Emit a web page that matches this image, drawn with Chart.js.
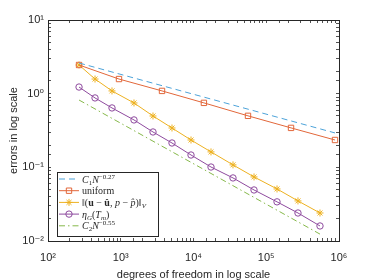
<!DOCTYPE html>
<html>
<head>
<meta charset="utf-8">
<script src="https://cdn.jsdelivr.net/npm/chart.js@4"></script>
<style>
  html, body { margin: 0; padding: 0; background: #fff; }
  #wrap { width: 374px; height: 280px; }
</style>
</head>
<body>
<div id="wrap"><canvas id="errChart"></canvas></div>
<script>
// data
const dofUniform = [267, 946, 3690, 13900, 56100, 219000, 881000];
const errUniform = [2.45, 1.58, 1.09, 0.75, 0.50, 0.343, 0.235];

const dofAdaptive = [267, 443, 758, 1521, 2775, 5063, 9240, 17400, 34900, 67900, 140600, 273000, 548000];
const errAdaptive = [2.45, 1.58, 1.09, 0.748, 0.498, 0.342, 0.235, 0.162, 0.108, 0.0741, 0.0509, 0.0350, 0.0240];
const etaAdaptive = [1.23, 0.875, 0.640, 0.440, 0.302, 0.214, 0.147, 0.101, 0.0718, 0.0493, 0.0340, 0.0240, 0.0160];

// reference slopes, end points only
const dofRef1 = [267, 881000];
const valRef1 = [2.61, 0.293];
const dofRef2 = [267, 548000];
const valRef2 = [0.82, 0.0124];

const xMin = 1e2, xMax = 1e6;
const yMin = 1e-2, yMax = 1e1;

const axisColor = "#262626";
const sans = "'Liberation Sans', 'DejaVu Sans', sans-serif";
const serif = "'Liberation Serif', 'DejaVu Serif', serif";

function pts(xs, ys) {
    return xs.map((x, i) => ({ x: x, y: ys[i] }));
}

const SUP = { "0": "⁰", "1": "¹", "2": "²", "3": "³", "4": "⁴", "5": "⁵", "6": "⁶", "-": "⁻" };
function powLabel(v) {
    const e = Math.log10(v);
    if (Math.abs(e - Math.round(e)) > 1e-9) return "";
    return "10" + String(Math.round(e)).split("").map(c => SUP[c]).join("");
}

// legend text pieces: [text, style]
const legendText = [
    [["C", "i"], ["1", "sub"], ["N", "i"], ["−0.27", "sup"]],
    [["uniform", "r"]],
    [["‖(", "r"], ["u", "b"], [" − ", "r"], ["û", "b"], [", ", "r"], ["p", "i"], [" − ", "r"], ["p̂", "i"], [")‖", "r"], ["V", "subi"]],
    [["η", "i"], ["G", "subi"], ["(", "r"], ["T", "i"], ["m", "subi"], [")", "r"]],
    [["C", "i"], ["2", "sub"], ["N", "i"], ["−0.55", "sup"]]
];

const boxLegend = {
    id: "boxLegend",
    afterDraw(chart) {
        const ctx = chart.ctx;
        const x0 = 57, y0 = 172, w = 101, h = 64;
        ctx.save();
        ctx.fillStyle = "#fff";
        ctx.fillRect(x0, y0, w, h);
        ctx.strokeStyle = axisColor;
        ctx.lineWidth = 1;
        ctx.strokeRect(x0 + 0.5, y0 + 0.5, w, h);

        chart.data.datasets.forEach((ds, i) => {
            const y = y0 + 7 + i * 11.7;
            ctx.strokeStyle = ds.borderColor;
            ctx.lineWidth = ds.borderWidth;
            ctx.setLineDash(ds.borderDash || []);
            ctx.beginPath();
            ctx.moveTo(x0 + 2, y);
            ctx.lineTo(x0 + 22, y);
            ctx.stroke();
            ctx.setLineDash([]);
            if (ds.pointRadius > 0) {
                ctx.fillStyle = "rgba(0,0,0,0)";
                Chart.helpers.drawPoint(ctx, {
                    pointStyle: ds.pointStyle,
                    radius: ds.pointRadius,
                    borderWidth: ds.borderWidth,
                    rotation: 0
                }, x0 + 12, y);
            }
            // rich text
            let tx = x0 + 25;
            ctx.fillStyle = axisColor;
            ctx.textBaseline = "alphabetic";
            legendText[i].forEach(([t, st]) => {
                let font = "10px " + serif, dy = 3.5;
                if (st === "i") font = "italic 10px " + serif;
                if (st === "b") font = "bold 10px " + serif;
                if (st === "sub") { font = "7px " + serif; dy = 5.5; }
                if (st === "subi") { font = "italic 7px " + serif; dy = 5.5; }
                if (st === "sup") { font = "7px " + serif; dy = -0.5; }
                ctx.font = font;
                ctx.fillText(t, tx, y + dy);
                tx += ctx.measureText(t).width;
            });
        });
        ctx.restore();
    }
};

function logAxis(pos, min, max, showLabels, size) {
    const horizontal = pos === "top" || pos === "bottom";
    return {
        type: "logarithmic",
        position: pos,
        min: min,
        max: max,
        border: { display: true, color: axisColor, width: 1 },
        grid: {
            drawOnChartArea: false,
            drawTicks: true,
            tickLength: -3,
            color: axisColor,
            tickColor: axisColor,
            tickWidth: 0.8
        },
        ticks: {
            display: showLabels,
            autoSkip: false,
            maxRotation: 0,
            padding: horizontal ? 13 : 7,
            color: axisColor,
            font: { family: sans, size: 11 },
            callback: (v) => powLabel(v)
        },
        afterFit(scale) {
            if (horizontal) scale.height = size; else scale.width = size;
        }
    };
}

const xAxis = logAxis("bottom", xMin, xMax, true, 39);
xAxis.title = {
    display: true,
    text: "degrees of freedom in log scale",
    color: axisColor,
    font: { family: sans, size: 11 },
    padding: { top: 0, bottom: -2 }
};
const yAxis = logAxis("left", yMin, yMax, true, 48);
yAxis.title = {
    display: true,
    text: "errors in log scale",
    color: axisColor,
    font: { family: sans, size: 11 },
    padding: { top: 7, bottom: 0 }
};

new Chart(document.getElementById("errChart"), {
    type: "line",
    data: {
        datasets: [
            {
                label: "C1 N^-0.27",
                data: pts(dofRef1, valRef1),
                borderColor: "#4DA3D9",
                borderWidth: 1,
                borderDash: [6, 4],
                pointRadius: 0
            },
            {
                label: "uniform",
                data: pts(dofUniform, errUniform),
                borderColor: "#E2673A",
                borderWidth: 1,
                pointStyle: "rect",
                pointRadius: 3.8,
                pointBackgroundColor: "rgba(0,0,0,0)"
            },
            {
                label: "||(u-uh, p-ph)||_V",
                data: pts(dofAdaptive, errAdaptive),
                borderColor: "#EDB120",
                borderWidth: 1,
                pointStyle: "star",
                pointRadius: 3.5,
                pointBackgroundColor: "rgba(0,0,0,0)"
            },
            {
                label: "eta_G(T_m)",
                data: pts(dofAdaptive, etaAdaptive),
                borderColor: "#8E4A9E",
                borderWidth: 1,
                pointStyle: "circle",
                pointRadius: 3.2,
                pointBackgroundColor: "rgba(0,0,0,0)"
            },
            {
                label: "C2 N^-0.55",
                data: pts(dofRef2, valRef2),
                borderColor: "#86B84A",
                borderWidth: 1,
                borderDash: [6, 3, 1.5, 3],
                pointRadius: 0
            }
        ]
    },
    options: {
        responsive: true,
        maintainAspectRatio: false,
        animation: false,
        layout: { padding: 0 },
        plugins: {
            legend: { display: false },
            tooltip: { enabled: false }
        },
        elements: { line: { tension: 0 } },
        scales: {
            x: xAxis,
            x2: logAxis("top", xMin, xMax, false, 20),
            y: yAxis,
            y2: logAxis("right", yMin, yMax, false, 35)
        }
    },
    plugins: [boxLegend]
});
</script>
</body>
</html>
